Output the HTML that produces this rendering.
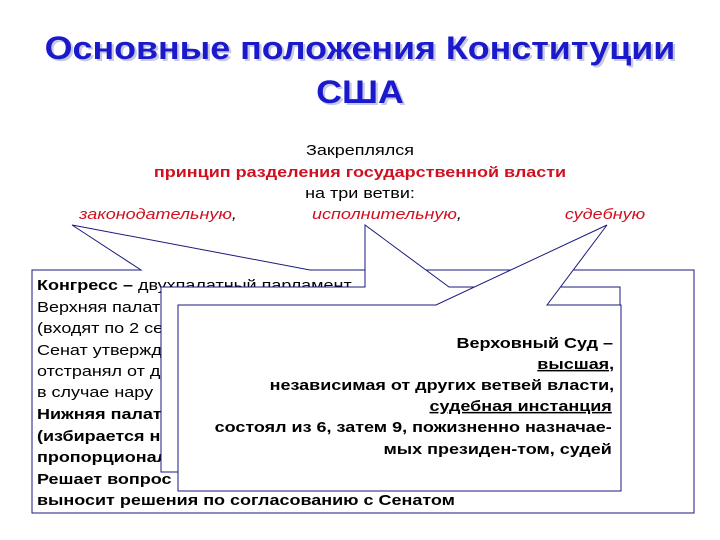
<!DOCTYPE html>
<html><head><meta charset="utf-8"><style>
html,body{margin:0;padding:0;background:#fff;}
svg{display:block;}
text{font-family:"Liberation Sans",Arial,sans-serif;}
</style></head><body>
<svg width="720" height="540" viewBox="0 0 720 540" xmlns="http://www.w3.org/2000/svg">
<rect width="720" height="540" fill="#fff"/>
<g font-weight="bold" font-size="32" text-anchor="middle" transform="translate(360,0) scale(1.12,1) translate(-360,0)">
<text x="362" y="61" fill="#c8c8e0">Основные положения Конституции</text>
<text x="362" y="105" fill="#c8c8e0">США</text>
<text x="360" y="59" fill="#1a1acc">Основные положения Конституции</text>
<text x="360" y="103" fill="#1a1acc">США</text>
</g>
<g font-size="15" text-anchor="middle" transform="translate(360,0) scale(1.2,1) translate(-360,0)">
<text x="360" y="155" fill="#000">Закреплялся</text>
<text x="360" y="177" fill="#d01020" font-weight="bold">принцип разделения государственной власти</text>
<text x="360" y="198" fill="#000">на три ветви:</text>
</g>
<g font-size="15" text-anchor="middle">
<text x="158" y="219" fill="#d01020" font-style="italic" transform="translate(158,0) scale(1.2,1) translate(-158,0)">законодательную<tspan fill="#000">,</tspan></text>
<text x="387" y="219" fill="#d01020" font-style="italic" transform="translate(387,0) scale(1.2,1) translate(-387,0)">исполнительную<tspan fill="#000">,</tspan></text>
<text x="605" y="219" fill="#d01020" font-style="italic" transform="translate(605,0) scale(1.2,1) translate(-605,0)">судебную</text>
</g>
<!-- Congress callout -->
<path d="M32,270 L141,270 L72,225 L310,270 L694,270 L694,513 L32,513 Z" fill="#fff" stroke="#1a1a80" stroke-width="1"/>
<g font-size="15" fill="#000" transform="translate(37,0) scale(1.2,1) translate(-37,0)">
<text x="37" y="290"><tspan font-weight="bold">Конгресс –</tspan> двухпалатный парламент</text>
<text x="37" y="312">Верхняя палата</text>
<text x="37" y="333">(входят по 2 се</text>
<text x="37" y="355">Сенат утвержд</text>
<text x="37" y="376">отстранял от д</text>
<text x="37" y="397">в случае нару</text>
<text x="37" y="419" font-weight="bold">Нижняя палат</text>
<text x="37" y="441" font-weight="bold">(избирается н</text>
<text x="37" y="462" font-weight="bold">пропорционал</text>
<text x="37" y="484" font-weight="bold">Решает вопрос</text>
<text x="37" y="505" font-weight="bold">выносит решения по согласованию с Сенатом</text>
</g>
<!-- Executive callout -->
<path d="M161,287 L365,287 L365,225 L449,287 L620,287 L620,472 L161,472 Z" fill="#fff" stroke="#1a1a80" stroke-width="1"/>
<!-- Court callout -->
<path d="M178,305 L436,305 L607,225 L547,305 L621,305 L621,491 L178,491 Z" fill="#fff" stroke="#1a1a80" stroke-width="1"/>
<g font-size="15" fill="#000" font-weight="bold" text-anchor="end" transform="translate(613,0) scale(1.2,1) translate(-613,0)">
<text x="613" y="348">Верховный Суд –</text>
<text x="614" y="369" text-decoration="underline">высшая,</text>
<text x="614" y="390">независимая от других ветвей власти,</text>
<text x="612" y="411" text-decoration="underline">судебная инстанция</text>
<text x="612" y="432">состоял из 6, затем 9, пожизненно назначае-</text>
<text x="612" y="454">мых президен-том, судей</text>
</g>
</svg>
</body></html>
